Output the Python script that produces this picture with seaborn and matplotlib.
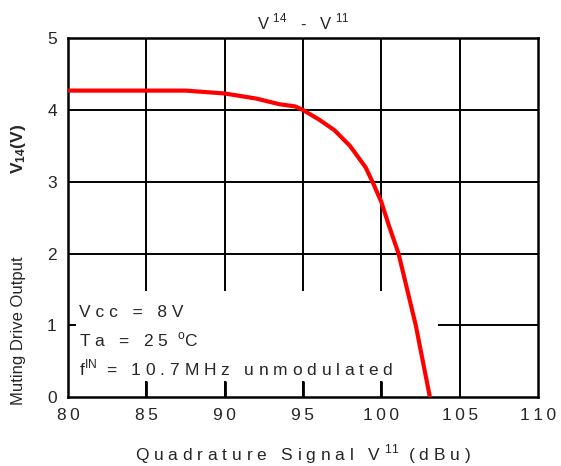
import matplotlib
matplotlib.use("Agg")
import matplotlib.pyplot as plt
from matplotlib.patches import Rectangle
import seaborn as sns
import pandas as pd

# values
signal_dbu = [80, 85, 87.5, 90, 92, 93.5, 94.5, 95, 96, 97, 98, 99, 99.5, 100, 100.5, 101.1, 102.2, 103.1]
v14 = [4.27, 4.27, 4.27, 4.23, 4.16, 4.08, 4.05, 4.0, 3.87, 3.72, 3.5, 3.2, 2.97, 2.72, 2.38, 2.0, 1.0, 0.0]

x_ticks = [80, 85, 90, 95, 100, 105, 110]
y_ticks = [0, 1, 2, 3, 4, 5]
x_tick_labels = ["8\u20090", "8\u20095", "9\u20090", "9\u20095", "1\u20090\u20090", "1\u20090\u20095", "1\u20091\u20090"]

conditions = ["V c c   =   8 V",
              "T a   =   2 5  $^{\\rm o}$C",
              "f$^{\\rm IN}$  =   1 0 . 7 M H z   u n m o d u l a t e d"]

df = pd.DataFrame({"signal": signal_dbu, "v14": v14})

sns.set_style("white")
plt.rcParams["font.family"] = ["Liberation Sans", "DejaVu Sans"]
plt.rcParams["mathtext.fontset"] = "custom"
plt.rcParams["mathtext.rm"] = "Liberation Sans"
plt.rcParams["mathtext.bf"] = "Liberation Sans:bold"

fig = plt.figure(figsize=(5.61, 4.66), dpi=100)
ax = fig.add_axes([0.121, 0.148, 0.838, 0.770])

# grid
for xv in x_ticks[1:-1]:
    ax.axvline(xv, color="black", lw=1.4, zorder=1)
for yv in y_ticks[1:-1]:
    ax.axhline(yv, color="black", lw=1.4, zorder=1)

# white box behind the conditions text
ax.add_patch(Rectangle((80.5, 0.22), 103.6 - 80.5, 1.26, facecolor="white",
                       edgecolor="none", zorder=2))
# short grid stubs left visible under the box
ax.vlines(x_ticks[1:-2], 0, 0.22, color="black", lw=2, zorder=5)

sns.lineplot(data=df, x="signal", y="v14", color="#ff0000", lw=3, ax=ax, zorder=3)

ax.set_xlim(80, 110)
ax.set_ylim(0, 5)
ax.set_xticks(x_ticks)
ax.set_xticklabels(x_tick_labels)
ax.set_yticks(y_ticks)
ax.tick_params(axis="x", direction="in", length=0, labelsize=12.5, pad=8)
ax.tick_params(axis="y", direction="in", length=0, labelsize=12.5, pad=8)
for sp in ax.spines.values():
    sp.set_color("black")
    sp.set_linewidth(1.8)

ax.set_xlabel("Q u a d r a t u r e   S i g n a l   V $^{\\rm 1 1}$  ( d B u )", fontsize=12.5, labelpad=14)
ax.set_ylabel("")
ax.set_title("V $^{\\rm 1 4}$   -   V $^{\\rm 1 1}$", fontsize=12, pad=6)

for i, line in enumerate(conditions):
    ax.text(80.7, 1.18 - i * 0.39, line, fontsize=12.5, va="center", ha="left", zorder=4)

ax.text(-0.105, 0.69, "$\\mathbf{V_{14}(V)}$", transform=ax.transAxes, rotation=90,
        fontsize=12.5, va="center", ha="center")
ax.text(-0.105, 0.185, "Muting Drive Output", transform=ax.transAxes, rotation=90,
        fontsize=12, va="center", ha="center")

fig.savefig("out.png", dpi=100)
